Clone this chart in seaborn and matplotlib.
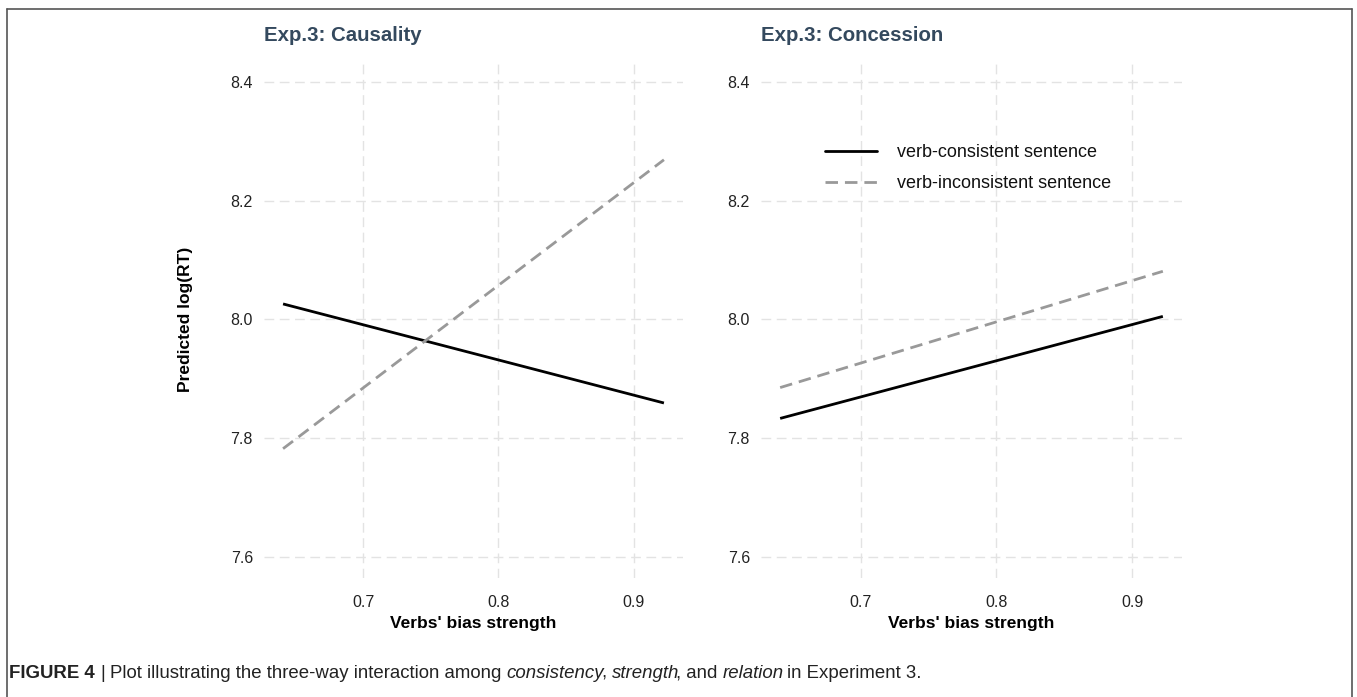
import matplotlib
matplotlib.use("Agg")
import matplotlib.pyplot as plt
import seaborn as sns
import pandas as pd
from matplotlib.lines import Line2D

# ---- data ----
strength = [0.6408, 0.9225]
causality_consistent = [8.026, 7.859]
causality_inconsistent = [7.782, 8.269]
concession_consistent = [7.833, 8.005]
concession_inconsistent = [7.885, 8.081]
relations = ["Causality", "Concession"]
consistency_labels = ["verb-consistent sentence", "verb-inconsistent sentence"]
y_ticks = [7.6, 7.8, 8.0, 8.2, 8.4]
x_ticks = [0.7, 0.8, 0.9]

rows = []
for rel, cons, incons in [("Causality", causality_consistent, causality_inconsistent),
                          ("Concession", concession_consistent, concession_inconsistent)]:
    for x, y in zip(strength, cons):
        rows.append({"relation": rel, "consistency": consistency_labels[0], "strength": x, "rt": y})
    for x, y in zip(strength, incons):
        rows.append({"relation": rel, "consistency": consistency_labels[1], "strength": x, "rt": y})
df = pd.DataFrame(rows)

sns.set_theme(style="white")
plt.rcParams["font.family"] = ["Liberation Sans", "DejaVu Sans"]

W, H = 1357, 697
fig = plt.figure(figsize=(W / 100, H / 100), dpi=100)
fig.patch.set_facecolor("white")

def fx(px):
    return px / W

def fy(py):
    return 1 - py / H

ax_top, ax_bot = 60.7, 578
panels = [(264, 683), (761, 1182)]
palette = {consistency_labels[0]: "black", consistency_labels[1]: "#999999"}
dashes = {consistency_labels[0]: "", consistency_labels[1]: (4.5, 2.5)}
title_color = "#34495E"
tick_color = "#222222"
label_size = 12.5

axes = []
for i, (rel, (x0, x1)) in enumerate(zip(relations, panels)):
    ax = fig.add_axes([fx(x0), fy(ax_bot), (x1 - x0) / W, (ax_bot - ax_top) / H])
    axes.append(ax)
    sub = df[df["relation"] == rel]
    sns.lineplot(data=sub, x="strength", y="rt", hue="consistency", style="consistency",
                 palette=palette, dashes=dashes, linewidth=2.0, ax=ax, legend=False,
                 estimator=None, sort=False)
    for ln in ax.lines:
        ln.set_dash_capstyle("butt")
        ln.set_solid_capstyle("butt")
    ax.set_xlim(0.6267, 0.9366)
    ax.set_ylim(7.564, 8.436)
    ax.set_xticks(x_ticks)
    ax.set_yticks(y_ticks)
    ax.set_xticklabels([f"{v:.1f}" for v in x_ticks])
    ax.set_yticklabels([f"{v:.1f}" for v in y_ticks])
    ax.tick_params(axis="both", length=0, labelsize=11.5, colors=tick_color)
    ax.tick_params(axis="x", pad=12)
    ax.tick_params(axis="y", pad=8)
    for s in ax.spines.values():
        s.set_visible(False)
    ax.grid(True, color="#E3E3E3", linewidth=1.0, linestyle=(0, (7, 4)))
    ax.set_axisbelow(True)
    ax.set_facecolor("white")
    ax.set_title(f"Exp.3: {rel}", loc="left", fontsize=14.7, fontweight="bold",
                 color=title_color, pad=14.4)
    ax.set_xlabel("Verbs' bias strength", fontsize=label_size, fontweight="bold", color="black")
    ax.xaxis.set_label_coords(0.5, -0.073)
    if i == 0:
        ax.set_ylabel("Predicted log(RT)", fontsize=label_size, fontweight="bold", color="black")
        ax.yaxis.set_label_coords(-0.170, 0.5)
    else:
        ax.set_ylabel("")

# legend in right panel
handles = [Line2D([0], [0], color="black", lw=2.0),
           Line2D([0], [0], color="#999999", lw=2.0, linestyle=(0, (4.5, 2.5)))]
leg = axes[1].legend(handles, consistency_labels, loc="upper left",
                     bbox_to_anchor=((825 - 761) / (1182 - 761), (ax_bot - 144) / (ax_bot - ax_top)),
                     frameon=False, fontsize=13, handlelength=2.9, handletextpad=1.1,
                     labelspacing=0.78, borderpad=0, borderaxespad=0)
for t in leg.get_texts():
    t.set_color("#111111")

# figure frame (left, top, right)
frame_col = "#555555"
fig.add_artist(Line2D([fx(7), fx(7)], [fy(9), 0], color=frame_col, lw=1.2, transform=fig.transFigure))
fig.add_artist(Line2D([fx(7), fx(1352)], [fy(9), fy(9)], color=frame_col, lw=1.2, transform=fig.transFigure))
fig.add_artist(Line2D([fx(1352), fx(1352)], [fy(9), 0], color=frame_col, lw=1.2, transform=fig.transFigure))

# caption, built piece by piece
pieces = [("FIGURE 4", "bold", "normal", True),
          ("|", "normal", "normal", True),
          ("Plot illustrating the three-way interaction among", "normal", "normal", True),
          ("consistency", "normal", "italic", False),
          (",", "normal", "normal", True),
          ("strength", "normal", "italic", False),
          (", and", "normal", "normal", True),
          ("relation", "normal", "italic", True),
          ("in Experiment 3.", "normal", "normal", False)]
renderer = fig.canvas.get_renderer()
cap_size = 13.4
tmp1 = fig.text(0, 0, "x x", fontsize=cap_size)
tmp2 = fig.text(0, 0, "xx", fontsize=cap_size)
space_w = tmp1.get_window_extent(renderer).width - tmp2.get_window_extent(renderer).width
tmp1.remove(); tmp2.remove()
xpos = 9.0
cap_y = fy(678)
for text, weight, style, space_after in pieces:
    t = fig.text(fx(xpos), cap_y, text, fontsize=cap_size, fontweight=weight, fontstyle=style,
                 color="#222222", ha="left", va="baseline")
    w = t.get_window_extent(renderer).width
    if style == "italic":
        w -= 2.5
    xpos += w + (space_w if space_after else 0)

fig.savefig("out.png", dpi=100, facecolor="white")
